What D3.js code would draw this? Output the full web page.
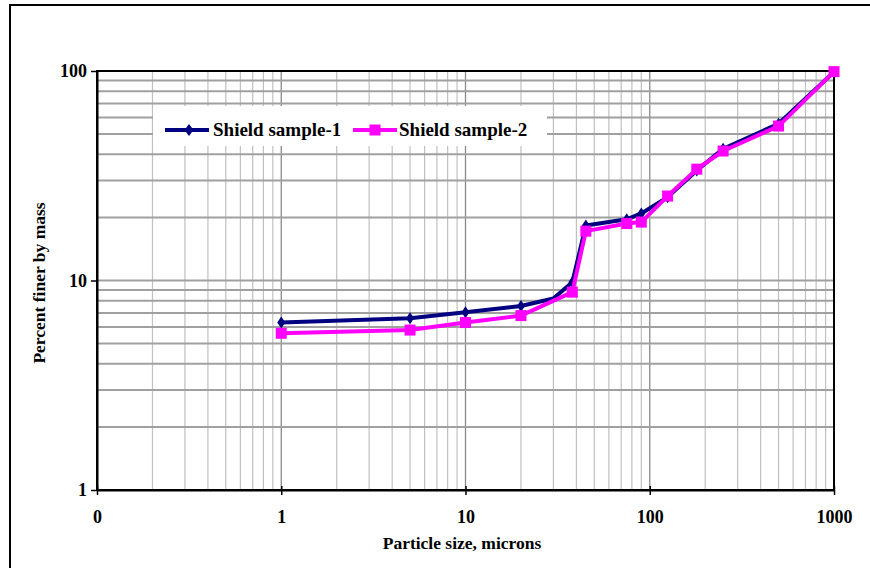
<!DOCTYPE html>
<html><head><meta charset="utf-8">
<script src="https://cdn.jsdelivr.net/npm/d3@7/dist/d3.min.js"></script>
<style>body{margin:0;background:#fff}svg{display:block}text{font-family:"Liberation Serif","Times New Roman",serif;font-weight:bold;fill:#000}</style>
</head><body><svg id="c" width="870" height="568"></svg>
<script>
const seriesNames = ["Shield sample-1", "Shield sample-2"];
const sample1Size = [1, 5, 10, 20, 30, 38, 45, 75, 90, 125, 180, 250, 500, 1000];
const sample1Pct  = [6.3, 6.6, 7.05, 7.55, 8.2, 9.8, 18.3, 19.6, 20.9, 25, 33.5, 42.5, 56, 99];
const sample2Size = [1, 5, 10, 20, 38, 45, 75, 90, 125, 180, 250, 500, 1000];
const sample2Pct  = [5.6, 5.8, 6.3, 6.8, 8.8, 17.2, 18.7, 19, 25.3, 34, 41.5, 54.6, 99.3];
const xTicks = [0.1, 1, 10, 100, 1000];
const xTickLabels = ["0", "1", "10", "100", "1000"];
const yTicks = [1, 10, 100];
const yTickLabels = ["1", "10", "100"];

const svg = d3.select("#c");
const L = 97, R = 834, T = 71, B = 490;
const x = d3.scaleLog().domain([0.1, 1000]).range([L, R]);
const y = d3.scaleLog().domain([1, 100]).range([B, T]);

// outer frame
svg.append("rect").attr("x", 10).attr("y", 5).attr("width", 870).attr("height", 580)
  .attr("fill", "none").attr("stroke", "#000").attr("stroke-width", 2);

// grid
const minorX = [], minorY = [];
for (let d = 0.1; d < 1000; d *= 10) for (let k = 2; k <= 9; k++) minorX.push(d * k);
for (let d = 1; d < 100; d *= 10) for (let k = 2; k <= 9; k++) minorY.push(d * k);
const g = svg.append("g");
g.selectAll(".vx").data(minorX).join("line")
  .attr("x1", d => x(d)).attr("x2", d => x(d)).attr("y1", T).attr("y2", B)
  .attr("stroke", "#c0c0c0").attr("stroke-width", 1.2);
g.selectAll(".vX").data([1, 10, 100]).join("line")
  .attr("x1", d => x(d)).attr("x2", d => x(d)).attr("y1", T).attr("y2", B)
  .attr("stroke", "#8a8a8a").attr("stroke-width", 1.3);
g.selectAll(".hy").data(minorY.concat([10])).join("line")
  .attr("y1", d => y(d)).attr("y2", d => y(d)).attr("x1", L).attr("x2", R)
  .attr("stroke", "#a0a0a0").attr("stroke-width", 2);

// plot border
svg.append("rect").attr("x", L).attr("y", T).attr("width", R - L).attr("height", B - T)
  .attr("fill", "none").attr("stroke", "#000").attr("stroke-width", 2);

// axes
const xAxis = d3.axisBottom(x).tickValues(xTicks).tickFormat((d, i) => xTickLabels[i]).tickSize(6).tickSizeOuter(0).tickPadding(14);
const xa = svg.append("g").attr("transform", `translate(0,${B})`).call(xAxis);
xa.select(".domain").attr("stroke", "#000").attr("stroke-width", 2);
xa.selectAll(".tick line").attr("stroke", "#000").attr("stroke-width", 1.5).attr("y1", -4).attr("y2", 5);
xa.selectAll("text").attr("font-size", 18).attr("font-family", "Liberation Serif").attr("font-weight", "bold").attr("fill", "#000");

const yAxis = d3.axisLeft(y).tickValues(yTicks).tickFormat((d, i) => yTickLabels[i]).tickSize(6).tickSizeOuter(0).tickPadding(4);
const ya = svg.append("g").attr("transform", `translate(${L},0)`).call(yAxis);
ya.select(".domain").attr("stroke", "#000").attr("stroke-width", 2);
ya.selectAll(".tick line").attr("stroke", "#000").attr("stroke-width", 1.5);
ya.selectAll("text").attr("font-size", 18).attr("font-family", "Liberation Serif").attr("font-weight", "bold").attr("fill", "#000");

svg.append("text").attr("x", 462).attr("y", 549).attr("text-anchor", "middle").attr("font-size", 17.5).text("Particle size, microns");
svg.append("text").attr("transform", "translate(45,283) rotate(-90)").attr("text-anchor", "middle").attr("font-size", 17.5).text("Percent finer by mass");

// series
const line = d3.line().x(d => x(d[0])).y(d => y(d[1]));
const s1 = sample1Size.map((v, i) => [v, sample1Pct[i]]);
const s2 = sample2Size.map((v, i) => [v, sample2Pct[i]]);
const diamond = (cx, cy, w, h) => `M${cx},${cy - h}L${cx + w},${cy}L${cx},${cy + h}L${cx - w},${cy}Z`;

svg.append("path").attr("d", line(s1)).attr("fill", "none").attr("stroke", "#000080").attr("stroke-width", 4).attr("stroke-linejoin", "round");
svg.selectAll(".m1").data(s1.filter(d => d[0] !== 30)).join("path")
  .attr("d", d => diamond(x(d[0]), y(d[1]), 4, 6)).attr("fill", "#000080");

svg.append("path").attr("d", line(s2)).attr("fill", "none").attr("stroke", "#ff00ff").attr("stroke-width", 4).attr("stroke-linejoin", "round");
svg.selectAll(".m2").data(s2).join("rect")
  .attr("x", d => x(d[0]) - 5.5).attr("y", d => y(d[1]) - 5.5).attr("width", 11).attr("height", 11).attr("fill", "#ff00ff");

// legend
const lg = svg.append("g");
lg.append("rect").attr("x", 153).attr("y", 106).attr("width", 394).attr("height", 40).attr("fill", "#fff");
lg.append("line").attr("x1", 165).attr("x2", 209).attr("y1", 130).attr("y2", 130).attr("stroke", "#000080").attr("stroke-width", 4);
lg.append("path").attr("d", diamond(189, 130, 4.5, 6)).attr("fill", "#000080");
lg.append("text").attr("x", 213).attr("y", 136).attr("font-size", 19).text(seriesNames[0]);
lg.append("line").attr("x1", 353).attr("x2", 397).attr("y1", 130).attr("y2", 130).attr("stroke", "#ff00ff").attr("stroke-width", 4);
lg.append("rect").attr("x", 369.5).attr("y", 124.5).attr("width", 11).attr("height", 11).attr("fill", "#ff00ff");
lg.append("text").attr("x", 399).attr("y", 136).attr("font-size", 19).text(seriesNames[1]);
</script></body></html>
